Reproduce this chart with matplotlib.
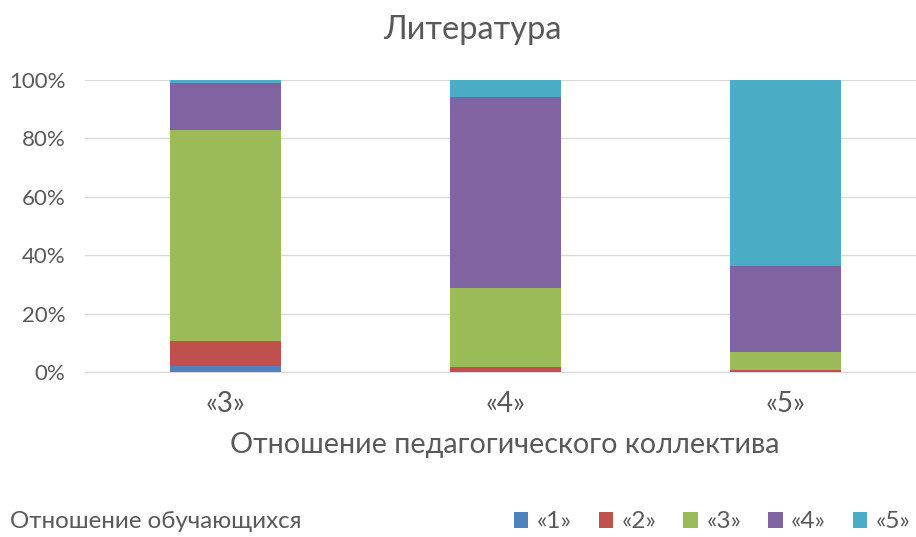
import numpy as np
import matplotlib.pyplot as plt
from matplotlib.patches import Patch

plt.rcParams['font.family'] = ['Lato', 'DejaVu Sans']

# categories (Отношение педагогического коллектива)
categories = ['«3»', '«4»', '«5»']
# shares of each group, percent
grade1 = [1.9, 0.0, 0.0]
grade2 = [8.8, 1.8, 0.8]
grade3 = [72.1, 27.0, 6.0]
grade4 = [16.1, 65.3, 29.6]
grade5 = [1.1, 5.9, 63.6]

series = [grade1, grade2, grade3, grade4, grade5]
labels = ['«1»', '«2»', '«3»', '«4»', '«5»']
colors = ['#4F81BD', '#C0504D', '#9BBB59', '#8064A2', '#4BACC6']

fig = plt.figure(figsize=(9.16, 5.37), dpi=100)
ax = fig.add_axes([85/916, 165/537, 841/916, 292/537])

x = np.arange(len(categories))
bottom = np.zeros(len(categories))
for vals, c in zip(series, colors):
    ax.bar(x, vals, width=0.395, bottom=bottom, color=c, zorder=3)
    bottom += np.array(vals)

ax.set_xlim(-0.5, 2.5)
ax.set_ylim(0, 100)
ax.set_yticks(range(0, 101, 20))
ax.set_yticklabels([f'{v}%' for v in range(0, 101, 20)])
ax.set_xticks(x)
ax.set_xticklabels(categories, fontsize=20)
ax.tick_params(length=0, colors='#595959')
ax.tick_params(axis='y', labelsize=16, pad=14)
ax.tick_params(axis='x', pad=14)
ax.grid(axis='y', color='#D9D9D9', lw=1, zorder=0)
for s in ['top', 'right', 'left']:
    ax.spines[s].set_visible(False)
ax.spines['bottom'].set_color('#D9D9D9')

fig.text(472/916, 1 - 30/537, 'Литература', ha='center', va='center', fontsize=23.5, color='#595959')
fig.text(505/916, 1 - 445/537, 'Отношение педагогического коллектива', ha='center', va='center',
         fontsize=20.7, color='#595959')
fig.text(10/916, 1 - 522/537, 'Отношение обучающихся', ha='left', va='center', fontsize=17.4, color='#595959')

handles = [Patch(facecolor=c, label=l) for c, l in zip(colors, labels)]
fig.legend(handles=handles, loc='center right', bbox_to_anchor=(1.018, 1 - 522/537), ncol=5, frameon=False,
           fontsize=17.5, labelcolor='#595959', handlelength=0.6, handleheight=0.6, handletextpad=0.35,
           columnspacing=1.1)

fig.savefig('out.png', dpi=100)
